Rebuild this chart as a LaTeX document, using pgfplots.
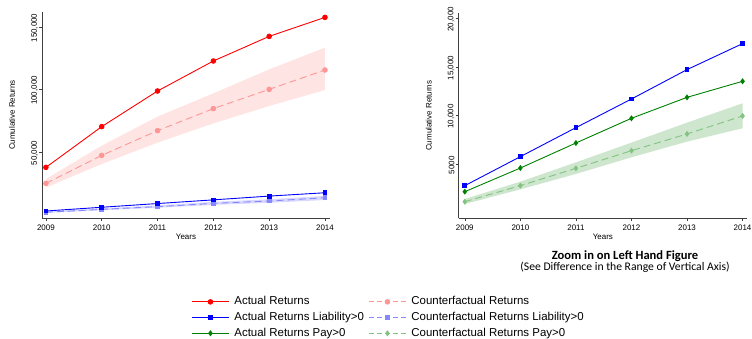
\documentclass[border=0pt]{standalone}
\usepackage{fontspec}
\setmainfont{Liberation Sans}
\newfontfamily\calibri{Carlito}
\usepackage{pgfplots}
\pgfplotsset{compat=1.18}

\definecolor{actred}{RGB}{255,0,0}
\definecolor{cfred}{RGB}{255,150,150}
\definecolor{bandred}{RGB}{255,228,228}
\definecolor{actblue}{RGB}{0,0,255}
\definecolor{cfblue}{RGB}{135,135,255}
\definecolor{bandblue}{RGB}{215,215,255}
\definecolor{actgreen}{RGB}{0,128,0}
\definecolor{cfgreen}{RGB}{130,195,130}
\definecolor{bandgreen}{RGB}{205,230,205}

\pgfplotsset{
  retstyle/.style={
    scale only axis,
    axis x line*=bottom,
    axis y line*=left,
    axis line style={-, black!75, line width=0.8bp},
    tick style={black!75, line width=0.6bp},
    tick align=outside,
    major tick length=3bp,
    scaled y ticks=false,
    scaled x ticks=false,
    font=\fontsize{8}{9.6}\selectfont,
    tick label style={font=\fontsize{8}{9.6}\selectfont},
    /pgf/number format/assume math mode=true,
    xtick={2009,2010,2011,2012,2013,2014},
    xticklabels={2009,2010,2011,2012,2013,2014},
    xticklabel style={inner sep=1bp, yshift=-2.5bp},
    yticklabel style={rotate=90, anchor=south, inner sep=1bp, xshift=-1bp},
    xlabel={Years},
    ylabel={Cumulative Returns},
    xlabel style={at={(axis description cs:0.5,-0.092)}, anchor=center, inner sep=0pt},
    ylabel style={at={(axis description cs:-0.104,0.5)}, anchor=center, inner sep=0pt},
    legend image code/.code={%
      \draw[mark repeat=2, mark phase=2, #1]
        plot coordinates {(0bp,0bp) (18.5bp,0bp) (37bp,0bp)};},
  },
  act/.style={solid, line width=0.9bp, mark options={solid}},
  cf/.style={dash pattern=on 7bp off 4bp, line width=0.9bp, mark options={solid}},
  cfkey/.style={dash pattern=on 5bp off 3bp, line width=0.9bp, mark options={solid}},
}

\begin{document}
\begin{tikzpicture}
\path[use as bounding box] (0bp,0bp) rectangle (752bp,-339bp);

% Left panel: all returns
\begin{axis}[
  retstyle,
  at={(42bp,-218bp)}, anchor=south west,
  width=288bp, height=206bp,
  xmin=2008.93, xmax=2014.09,
  ymin=-2800, ymax=162000,
  ytick={50000,100000,150000},
  yticklabels={{50,000},{100,000},{150,000}},
  legend columns=2,
  legend cell align=left,
  legend style={
    at={(axis description cs:0.508,-0.365)}, anchor=north west,
    draw=none, fill=none,
    font=\fontsize{11.5}{13}\selectfont,
    row sep=2.7bp,
    nodes={inner sep=1bp, text height=8.5bp, text depth=2.5bp},
    % odd columns hold the keys, even columns the texts
    /tikz/every odd column/.append style={column sep=4bp},
    /tikz/every even column/.append style={column sep=3.5bp},
  },
]
% confidence bands: upper bound left to right, lower bound right to left
\addplot[fill=bandred, draw=none, forget plot] coordinates {
  (2009,28400) (2010,55100) (2011,78300) (2012,96900) (2013,116100) (2014,133500)
  (2014,99600) (2013,86800) (2012,72900) (2011,57500) (2010,40400) (2009,21500)} -- cycle;
\addplot[fill=bandblue, draw=none, forget plot] coordinates {
  (2009,2200) (2010,4900) (2011,7300) (2012,10100) (2013,12200) (2014,14900)
  (2014,11600) (2013,9400) (2012,7700) (2011,5400) (2010,3400) (2009,1300)} -- cycle;

\addplot[cf, color=cfred, mark=*, mark size=2.3bp, forget plot] coordinates {
  (2009,24900) (2010,47300) (2011,67100) (2012,84700) (2013,100100) (2014,115600)};
\addplot[cf, color=cfblue, mark=square*, mark size=1.9bp, forget plot] coordinates {
  (2009,1760) (2010,4100) (2011,6300) (2012,8900) (2013,10800) (2014,13400)};
\addplot[act, color=actblue, mark=square*, mark size=1.9bp, forget plot] coordinates {
  (2009,2810) (2010,5790) (2011,8770) (2012,11710) (2013,14730) (2014,17400)};
\addplot[act, color=actred, mark=*, mark size=2.3bp, forget plot] coordinates {
  (2009,37700) (2010,70300) (2011,98800) (2012,122800) (2013,142500) (2014,157700)};

\addlegendimage{act, color=actred, mark=*, mark size=2.3bp}
\addlegendentry{Actual Returns}
\addlegendimage{cfkey, color=cfred, mark=*, mark size=2.3bp}
\addlegendentry{Counterfactual Returns}
\addlegendimage{act, color=actblue, mark=square*, mark size=1.9bp}
\addlegendentry{Actual Returns Liability>0}
\addlegendimage{cfkey, color=cfblue, mark=square*, mark size=1.9bp}
\addlegendentry{Counterfactual Returns Liability>0}
\addlegendimage{act, color=actgreen, mark=diamond*, mark size=2.3bp}
\addlegendentry{Actual Returns Pay>0}
\addlegendimage{cfkey, color=cfgreen, mark=diamond*, mark size=2.3bp}
\addlegendentry{Counterfactual Returns Pay>0}
\end{axis}

% Right panel: zoomed vertical range
\begin{axis}[
  retstyle,
  at={(458.7bp,-218.3bp)}, anchor=south west,
  width=288.3bp, height=205bp,
  xmin=2008.89, xmax=2014.08,
  ymin=-545, ymax=20515,
  ytick={5000,10000,15000,20000},
  yticklabels={5000,{10,000},{15,000},{20,000}},
]
\addplot[fill=bandgreen, draw=none] coordinates {
  (2009,1440) (2010,3220) (2011,5200) (2012,7230) (2013,9280) (2014,11270)
  (2014,8700) (2013,7330) (2012,5720) (2011,4010) (2010,2430) (2009,925)} -- cycle;

\addplot[cf, color=cfgreen, mark=diamond*, mark size=2.3bp] coordinates {
  (2009,1160) (2010,2810) (2011,4590) (2012,6400) (2013,8120) (2014,9970)};
\addplot[act, color=actgreen, mark=diamond*, mark size=2.3bp] coordinates {
  (2009,2190) (2010,4620) (2011,7190) (2012,9730) (2013,11880) (2014,13530)};
\addplot[act, color=actblue, mark=square*, mark size=1.9bp] coordinates {
  (2009,2810) (2010,5790) (2011,8770) (2012,11710) (2013,14730) (2014,17400)};
\end{axis}

\node[font=\calibri\bfseries\fontsize{12.6}{14}\selectfont, inner sep=0pt]
  at (625bp,-255.7bp) {Zoom in on Left Hand Figure};
\node[font=\calibri\fontsize{11.7}{13}\selectfont, inner sep=0pt]
  at (625bp,-267.5bp) {(See Difference in the Range of Vertical Axis)};
\end{tikzpicture}
\end{document}
